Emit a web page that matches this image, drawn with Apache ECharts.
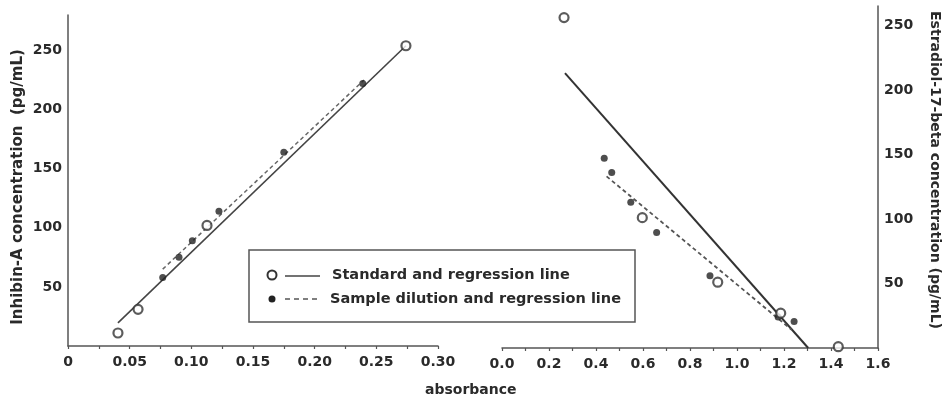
<!DOCTYPE html>
<html>
<head>
<meta charset="utf-8">
<script src="https://cdn.jsdelivr.net/npm/echarts@6/dist/echarts.min.js"></script>
<style>
html,body{margin:0;padding:0;background:#fff;}
#c{width:948px;height:398px;}
</style>
</head>
<body>
<div id="c"></div>
<script>
// ---- Left panel: Inhibin-A ----
const inhStdX = [0.0405, 0.0568, 0.1127, 0.274];
const inhStdY = [11, 31, 102, 254];
const inhSmpX = [0.0768, 0.090, 0.1008, 0.1224, 0.175, 0.239];
const inhSmpY = [58, 75, 89, 114, 164, 222];
const inhStdLineX = [0.0405, 0.274];
const inhStdLineY = [19.5, 254];
const inhSmpLineX = [0.0768, 0.240];
const inhSmpLineY = [65, 225];

// ---- Right panel: Estradiol-17-beta ----
const e2StdX = [0.264, 0.597, 0.918, 1.186, 1.431];
const e2StdY = [256, 101, 51, 27, 1];
const e2SmpX = [0.435, 0.467, 0.548, 0.658, 0.885, 1.175, 1.243];
const e2SmpY = [147, 136, 113, 89.5, 56, 24, 20.5];
const e2StdLineX = [0.268, 1.303];
const e2StdLineY = [213, 0];
const e2SmpLineX = [0.445, 1.233];
const e2SmpLineY = [133, 14];

// ---- Axis ticks / labels ----
const leftXTicks = {min: 0, max: 0.30, interval: 0.05};
const leftYTicks = {min: 0, max: 280, interval: 50};
const rightXTicks = {min: 0, max: 1.6, interval: 0.2};
const rightYTicks = {min: 0, max: 265, interval: 50};

const xTitle = 'absorbance';
const leftYTitle = 'Inhibin-A concentration  (pg/mL)';
const rightYTitle = 'Estradiol-17-beta concentration (pg/mL)';
const legendLabels = ['Standard and regression line', 'Sample dilution and regression line'];

const zip = (xs, ys) => xs.map((x, i) => [x, ys[i]]);

const FONT = 'DejaVu Sans';
const TXT = '#2a2a2a';
const AX = '#555';

const labelStyle = {color: TXT, fontFamily: FONT, fontWeight: 'bold', fontSize: 14};

function xAxisBase(t, gi, fmt) {
  return {
    type: 'value', gridIndex: gi, min: t.min, max: t.max, interval: t.interval,
    axisLine: {show: true, onZero: false, lineStyle: {color: AX, width: 1.5}},
    axisTick: {show: true, length: 3, lineStyle: {color: AX, width: 1.2}},
    minorTick: {show: true, splitNumber: 2, length: 3, lineStyle: {color: AX, width: 1.2}},
    splitLine: {show: false},
    axisLabel: Object.assign({margin: 9, formatter: fmt}, labelStyle)
  };
}
function yAxisBase(t, gi, pos) {
  return {
    type: 'value', gridIndex: gi, min: t.min, max: t.max, interval: t.interval, position: pos,
    axisLine: {show: true, onZero: false, lineStyle: {color: AX, width: 1.5}},
    axisTick: {show: false},
    splitLine: {show: false},
    axisLabel: Object.assign({margin: 6, showMinLabel: false, showMaxLabel: false}, labelStyle)
  };
}

const openSym = {color: '#fff', borderColor: '#333', borderWidth: 2.2};
const fillSym = {color: '#222'};

const option = {
  animation: false,
  backgroundColor: '#fff',
  grid: [
    {left: 68, top: 15, width: 370, height: 331},
    {left: 502, top: 6, width: 376, height: 342}
  ],
  xAxis: [
    xAxisBase(leftXTicks, 0, v => v === 0 ? '0' : v.toFixed(2)),
    xAxisBase(rightXTicks, 1, v => v.toFixed(1))
  ],
  yAxis: [
    yAxisBase(leftYTicks, 0, 'left'),
    yAxisBase(rightYTicks, 1, 'right')
  ],
  series: [
    {type: 'line', xAxisIndex: 0, yAxisIndex: 0, data: zip(inhStdLineX, inhStdLineY), symbol: 'none',
     lineStyle: {color: '#444', width: 1.6}},
    {type: 'line', xAxisIndex: 0, yAxisIndex: 0, data: zip(inhSmpLineX, inhSmpLineY), symbol: 'none',
     lineStyle: {color: '#666', width: 1.5, type: [4, 3]}},
    {type: 'line', xAxisIndex: 1, yAxisIndex: 1, data: zip(e2StdLineX, e2StdLineY), symbol: 'none',
     lineStyle: {color: '#333', width: 2}},
    {type: 'line', xAxisIndex: 1, yAxisIndex: 1, data: zip(e2SmpLineX, e2SmpLineY), symbol: 'none',
     lineStyle: {color: '#555', width: 1.8, type: [4, 3]}},
    {type: 'scatter', xAxisIndex: 0, yAxisIndex: 0, data: zip(inhSmpX, inhSmpY), symbolSize: 7, itemStyle: fillSym, z: 5},
    {type: 'scatter', xAxisIndex: 0, yAxisIndex: 0, data: zip(inhStdX, inhStdY), symbolSize: 9, itemStyle: openSym, z: 6},
    {type: 'scatter', xAxisIndex: 1, yAxisIndex: 1, data: zip(e2SmpX, e2SmpY), symbolSize: 7, itemStyle: fillSym, z: 5},
    {type: 'scatter', xAxisIndex: 1, yAxisIndex: 1, data: zip(e2StdX, e2StdY), symbolSize: 9, itemStyle: openSym, z: 6}
  ],
  graphic: [
    {type: 'text', left: 425, top: 383, style: {text: xTitle, fill: TXT, font: 'bold 14px "DejaVu Sans"'}},
    {type: 'text', x: 18, y: 187, rotation: Math.PI / 2,
     style: {text: leftYTitle, fill: TXT, font: 'bold 15px "DejaVu Sans"', align: 'center', verticalAlign: 'middle'}},
    {type: 'text', x: 935, y: 170, rotation: -Math.PI / 2,
     style: {text: rightYTitle, fill: TXT, font: 'bold 14px "DejaVu Sans"', align: 'center', verticalAlign: 'middle'}},
    {type: 'rect', shape: {x: 249, y: 250, width: 386, height: 72}, style: {fill: '#fff', stroke: '#555', lineWidth: 1.5}, z: 10},
    {type: 'circle', shape: {cx: 272, cy: 275, r: 4.5}, style: {fill: '#fff', stroke: '#333', lineWidth: 2}, z: 11},
    {type: 'line', shape: {x1: 285, y1: 276, x2: 320, y2: 276}, style: {stroke: '#444', lineWidth: 1.5}, z: 11},
    {type: 'text', x: 332, y: 275, style: {text: legendLabels[0], fill: TXT, font: 'bold 14.5px "DejaVu Sans"', verticalAlign: 'middle'}, z: 11},
    {type: 'circle', shape: {cx: 272, cy: 299, r: 3.5}, style: {fill: '#222'}, z: 11},
    {type: 'line', shape: {x1: 285, y1: 299, x2: 320, y2: 299}, style: {stroke: '#555', lineWidth: 1.5, lineDash: [5, 4]}, z: 11},
    {type: 'text', x: 330, y: 299, style: {text: legendLabels[1], fill: TXT, font: 'bold 14.5px "DejaVu Sans"', verticalAlign: 'middle'}, z: 11}
  ]
};

const chart = echarts.init(document.getElementById('c'), null, {renderer: 'canvas'});
chart.setOption(option);
</script>
</body>
</html>
